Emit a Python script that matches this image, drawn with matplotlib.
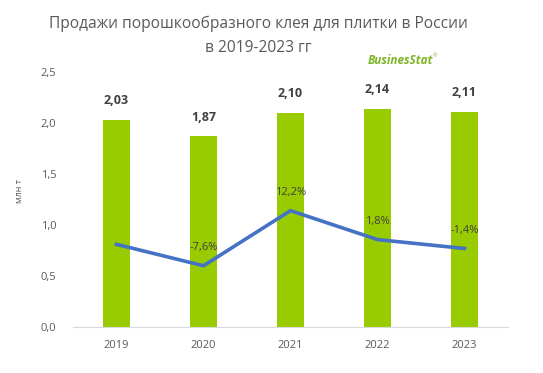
import matplotlib
matplotlib.use("Agg")
import matplotlib.pyplot as plt
import numpy as np

years = ["2019", "2020", "2021", "2022", "2023"]
sales = [2.03, 1.87, 2.10, 2.14, 2.11]
sales_labels = ["2,03", "1,87", "2,10", "2,14", "2,11"]
growth = [0.1, -7.6, 12.2, 1.8, -1.4]
growth_labels = ["", "-7,6%", "12,2%", "1,8%", "-1,4%"]
yticks = [0.0, 0.5, 1.0, 1.5, 2.0, 2.5]
ytick_labels = ["0,0", "0,5", "1,0", "1,5", "2,0", "2,5"]

plt.rcParams['font.family'] = ['Open Sans', 'DejaVu Sans']
W, H = 543, 373
fig = plt.figure(figsize=(W / 100, H / 100), dpi=100)
ax = fig.add_axes([73 / W, 46 / H, 435 / W, 255 / H])

x = np.arange(len(years))
green = "#99CC00"
blue = "#4472C4"
txt = "#595959"

ax.bar(x, sales, width=0.31, color=green, zorder=2)
for xi, v, lab in zip(x, sales, sales_labels):
    ax.annotate(lab, (xi, v), xytext=(0, 9), textcoords="offset points",
                ha="center", va="bottom", fontsize=9, fontweight="bold", color="#404040")

ax.set_xlim(-0.5, 4.5)
ax.set_ylim(0, 2.5)
ax.set_yticks(yticks)
ax.set_yticklabels(ytick_labels, fontsize=8, color=txt)
ax.set_xticks(x)
ax.set_xticklabels(years, fontsize=8, color=txt)
ax.tick_params(axis="both", length=0)
ax.tick_params(axis="y", pad=12)
ax.tick_params(axis="x", pad=9)
for s in ["top", "right", "left"]:
    ax.spines[s].set_visible(False)
ax.spines["bottom"].set_color("#D9D9D9")
ax.set_ylabel("млн т", fontsize=6.5, color=txt)
ax.yaxis.set_label_coords(-0.113, 0.535)

ax2 = ax.twinx()
ax2.set_ylim(-29.6, 62.0)
ax2.plot(x, growth, color=blue, linewidth=2.6, zorder=3)
for xi, g, lab in zip(x, growth, growth_labels):
    if lab:
        ax2.annotate(lab, (xi, g), xytext=(0, 9), textcoords="offset points",
                     ha="center", va="bottom", fontsize=8, color="#404040")
ax2.axis("off")

fig.text(258 / W, 1 - 24 / H, "Продажи порошкообразного клея для плитки в России",
         ha="center", va="center", fontsize=11.2, color=txt)
fig.text(258 / W, 1 - 48 / H, "в 2019-2023 гг", ha="center", va="center",
         fontsize=11.2, color=txt)
fig.text(368 / W, 1 - 61 / H, "BusinesStat", ha="left", va="center", fontsize=8.5,
         fontweight="bold", style="italic", color="#7DB524")
fig.text(433 / W, 1 - 56 / H, "®", ha="left", va="center", fontsize=4, color="#7DB524")

fig.savefig("out.png", dpi=100)
